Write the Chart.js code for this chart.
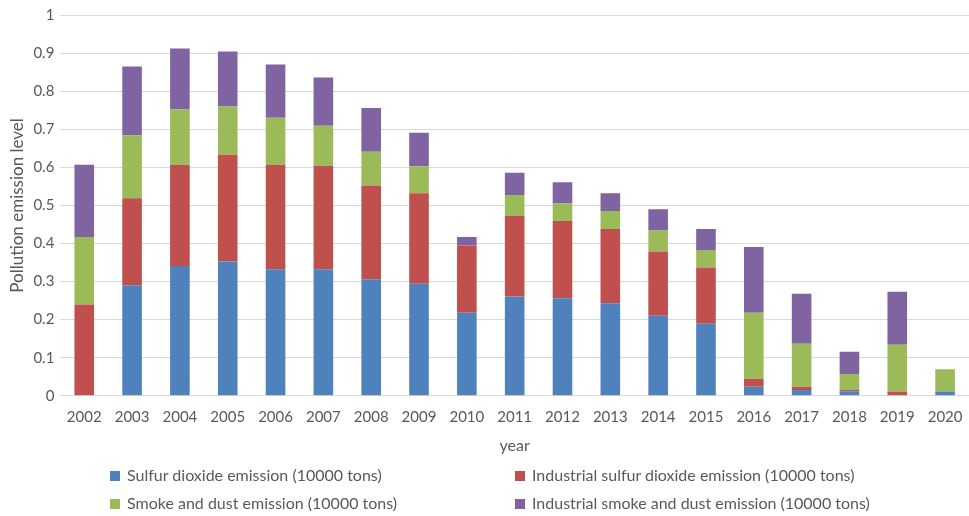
<!DOCTYPE html>
<html>
<head>
<meta charset="utf-8">
<script src="https://cdn.jsdelivr.net/npm/chart.js@4/dist/chart.umd.min.js"></script>
<style>
  body { margin: 0; background: #fff; overflow: hidden; }
  #wrap { position: relative; width: 969px; height: 516px; }
  #chartBox { position: absolute; left: 0; top: 0; width: 969px; height: 516px; }
  #legend { position: absolute; left: 0; top: 0; width: 969px; height: 516px; pointer-events: none;
            font-family: Lato, "Noto Sans", sans-serif; font-size: 16px; color: #595959; }
  .item { position: absolute; white-space: nowrap; line-height: 18px; }
  .box { display: inline-block; width: 10px; height: 10px; margin-right: 7px; vertical-align: 0px; }
</style>
</head>
<body>
<div id="wrap">
  <div id="chartBox"><canvas id="emissionChart"></canvas></div>
  <div id="legend"></div>
</div>
<script>
const years = ["2002", "2003", "2004", "2005", "2006", "2007", "2008", "2009", "2010", "2011",
  "2012", "2013", "2014", "2015", "2016", "2017", "2018", "2019", "2020"];

const sulfurDioxide = [0, 0.29, 0.341, 0.353, 0.332, 0.332, 0.306, 0.294, 0.218, 0.261,
  0.256, 0.243, 0.21, 0.189, 0.024, 0.015, 0.012, 0, 0.011];
const industrialSulfur = [0.24, 0.229, 0.266, 0.28, 0.275, 0.272, 0.246, 0.238, 0.177, 0.211,
  0.203, 0.195, 0.169, 0.148, 0.02, 0.009, 0.004, 0.011, 0];
const smokeDust = [0.177, 0.165, 0.145, 0.127, 0.123, 0.105, 0.089, 0.071, 0, 0.055,
  0.046, 0.047, 0.055, 0.046, 0.174, 0.113, 0.041, 0.123, 0.059];
const industrialSmoke = [0.19, 0.181, 0.16, 0.144, 0.14, 0.127, 0.115, 0.088, 0.022, 0.059,
  0.056, 0.047, 0.056, 0.055, 0.173, 0.131, 0.059, 0.139, 0];

const yTicks = [0, 0.1, 0.2, 0.3, 0.4, 0.5, 0.6, 0.7, 0.8, 0.9, 1];

const seriesNames = [
  "Sulfur dioxide emission (10000 tons)",
  "Industrial sulfur dioxide emission (10000 tons)",
  "Smoke and dust emission (10000 tons)",
  "Industrial smoke and dust emission (10000 tons)"
];
const seriesColors = ["#4F81BD", "#C0504D", "#9BBB59", "#8064A2"];
const seriesData = [sulfurDioxide, industrialSulfur, smokeDust, industrialSmoke];

const textColor = "#595959";
const fontFamily = "Lato, 'Noto Sans', sans-serif";

const datasets = seriesData.map((data, i) => ({
  label: seriesNames[i],
  data: data,
  backgroundColor: seriesColors[i],
  barPercentage: 0.41,
  categoryPercentage: 1
}));

new Chart(document.getElementById("emissionChart"), {
  type: "bar",
  data: { labels: years, datasets: datasets },
  options: {
    responsive: true,
    maintainAspectRatio: false,
    animation: false,
    layout: { padding: { left: 7, right: 0, top: 9, bottom: 57 } },
    plugins: {
      legend: { display: false },
      tooltip: { enabled: false }
    },
    scales: {
      x: {
        stacked: true,
        grid: { display: false },
        border: { color: "#d9d9d9" },
        ticks: { color: textColor, font: { family: fontFamily, size: 15 }, padding: 4, maxRotation: 0 },
        title: { display: true, text: "year", color: textColor, font: { family: fontFamily, size: 16 }, padding: { top: 6 } }
      },
      y: {
        stacked: true,
        min: 0,
        max: 1,
        afterBuildTicks: axis => { axis.ticks = yTicks.map(v => ({ value: v })); },
        grid: { color: "#d9d9d9", drawTicks: false },
        border: { display: false },
        ticks: { color: textColor, font: { family: fontFamily, size: 15 }, padding: 6,
                  callback: v => String(Math.round(v * 10) / 10) },
        title: { display: true, text: "Pollution emission level", color: textColor,
                 font: { family: fontFamily, size: 17 }, padding: 0 }
      }
    }
  }
});

// two-column legend like the original
const legendSpots = [[110, 466], [515, 466], [110, 494], [515, 494]];
const legendEl = document.getElementById("legend");
seriesNames.forEach((name, i) => {
  const item = document.createElement("div");
  item.className = "item";
  item.style.left = legendSpots[i][0] + "px";
  item.style.top = legendSpots[i][1] + "px";
  item.innerHTML = `<span class="box" style="background:${seriesColors[i]}"></span>${name}`;
  legendEl.appendChild(item);
});
</script>
</body>
</html>
